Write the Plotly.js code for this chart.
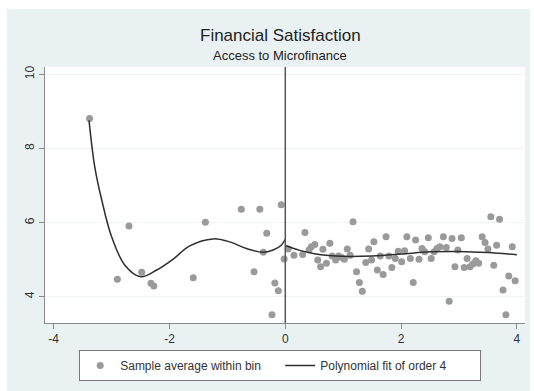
<!DOCTYPE html>
<html>
<head>
<meta charset="utf-8">
<script src="https://cdn.plot.ly/plotly-3.0.1.min.js"></script>
<style>
  html, body { margin: 0; padding: 0; background: #ffffff; }
  #chart { position: absolute; left: 7px; top: 9px; width: 523px; height: 382px; }
</style>
</head>
<body>
<div id="chart"></div>
<script>
// Binned sample averages (running variable, outcome)
const binX = [-3.38, -2.90, -2.70, -2.48, -2.32, -2.27, -1.59, -1.38, -0.76, -0.54, -0.44, -0.38, -0.32, -0.23, -0.18, -0.12, -0.07, -0.02,
  0.05, 0.15, 0.30, 0.34, 0.41, 0.45, 0.51, 0.56, 0.61, 0.65, 0.71, 0.77, 0.81, 0.87, 0.92, 0.97, 1.02, 1.07, 1.12, 1.17, 1.23, 1.28, 1.33,
  1.39, 1.44, 1.49, 1.53, 1.59, 1.64, 1.69, 1.74, 1.79, 1.84, 1.90, 1.95, 2.01, 2.06, 2.10, 2.16, 2.21, 2.25, 2.31, 2.36, 2.41, 2.47,
  2.52, 2.57, 2.62, 2.67, 2.73, 2.78, 2.83, 2.88, 2.93, 2.98, 3.04, 3.09, 3.14, 3.19, 3.24, 3.29, 3.34, 3.40, 3.45, 3.50, 3.55, 3.60,
  3.65, 3.70, 3.76, 3.81, 3.86, 3.92, 3.97];
const binY = [8.81, 4.47, 5.91, 4.66, 4.36, 4.29, 4.51, 6.01, 6.36, 4.67, 6.36, 5.20, 5.71, 3.51, 4.37, 4.16, 6.48, 5.02,
  5.29, 5.12, 5.14, 5.73, 5.26, 5.35, 5.41, 4.99, 4.81, 5.28, 4.90, 5.44, 5.10, 4.99, 5.10, 5.06, 5.01, 5.29, 5.12, 6.02, 4.67, 4.38, 4.15,
  4.92, 5.29, 4.99, 5.48, 4.72, 5.10, 4.60, 5.62, 5.10, 4.79, 5.03, 5.23, 4.94, 5.24, 5.62, 5.03, 4.38, 5.53, 5.01, 5.30, 5.21, 5.59,
  5.03, 5.21, 5.30, 5.35, 5.62, 5.33, 3.88, 5.57, 4.81, 5.26, 5.59, 4.79, 5.03, 4.81, 4.88, 4.97, 4.90, 5.62, 5.46, 5.29, 6.16, 4.85,
  5.39, 6.09, 4.18, 3.51, 4.56, 5.35, 4.43];

// Polynomial fit (order 4), left and right of the cutoff
const fitLeftX = [-3.39, -3.29, -3.17, -3.00, -2.77, -2.50, -2.22, -1.94, -1.65, -1.25, -0.96, -0.67, -0.39, -0.21, -0.07, 0.00];
const fitLeftY = [8.76, 7.50, 6.61, 5.62, 4.85, 4.54, 4.72, 5.01, 5.37, 5.56, 5.48, 5.30, 5.20, 5.26, 5.39, 5.55];
const fitRightX = [0.00, 0.25, 0.50, 0.75, 1.00, 1.50, 2.00, 2.50, 3.00, 3.50, 4.00];
const fitRightY = [5.38, 5.25, 5.16, 5.11, 5.09, 5.10, 5.15, 5.21, 5.22, 5.19, 5.13];

const xTicks = [-4, -2, 0, 2, 4];
const yTicks = [4, 6, 8, 10];
const titleText = "Financial Satisfaction";
const subtitleText = "Access to Microfinance";
const legendNames = ["Sample average within bin", "Polynomial fit of order 4"];
const cutoff = 0;

const font = "Liberation Sans, Arial, sans-serif";

const traces = [
  {
    type: "scatter", mode: "markers", x: binX, y: binY, name: legendNames[0],
    marker: { color: "#9a9a9a", size: 7 }
  },
  {
    type: "scatter", mode: "lines",
    x: fitLeftX.concat([null], fitRightX),
    y: fitLeftY.concat([null], fitRightY),
    name: legendNames[1], connectgaps: false,
    line: { color: "#2e2e2e", width: 1.5, shape: "spline" }
  }
];

const layout = {
  width: 523, height: 382,
  margin: { l: 38, r: 5, t: 58, b: 68 },
  paper_bgcolor: "#eaf1f3",
  plot_bgcolor: "#ffffff",
  font: { family: font, size: 12, color: "#333333" },
  showlegend: true,
  xaxis: {
    range: [-4.15, 4.14], tickvals: xTicks, ticktext: xTicks.map(String),
    showgrid: false, zeroline: false, showline: true, linecolor: "#8a8a8a", linewidth: 1,
    ticks: "outside", ticklen: 5, tickcolor: "#8a8a8a",
    tickfont: { family: font, size: 12, color: "#333333" }
  },
  yaxis: {
    range: [3.29, 10.2], tickvals: yTicks, ticktext: yTicks.map(String), tickangle: -90,
    showgrid: true, gridcolor: "#eef3f5", gridwidth: 1,
    zeroline: false, showline: true, linecolor: "#8a8a8a", linewidth: 1,
    ticks: "outside", ticklen: 5, tickcolor: "#8a8a8a",
    tickfont: { family: font, size: 12, color: "#333333" }
  },
  shapes: [
    { type: "line", xref: "x", yref: "paper", x0: cutoff, x1: cutoff, y0: 0, y1: 1,
      line: { color: "#555555", width: 1.5 } }
  ],
  annotations: [
    { text: titleText, xref: "paper", yref: "paper", x: 0.49, y: 1.125, xanchor: "center", yanchor: "middle",
      showarrow: false, font: { family: font, size: 17, color: "#222222" } },
    { text: subtitleText, xref: "paper", yref: "paper", x: 0.49, y: 1.045, xanchor: "center", yanchor: "middle",
      showarrow: false, font: { family: font, size: 13, color: "#222222" } }
  ],
  legend: {
    orientation: "h", x: 0.49, y: -0.105, xanchor: "center", yanchor: "top",
    bgcolor: "#ffffff", bordercolor: "#777777", borderwidth: 1,
    entrywidth: 155, entrywidthmode: "pixels",
    font: { family: font, size: 12, color: "#333333" }
  }
};

Plotly.newPlot("chart", traces, layout, { displayModeBar: false, staticPlot: true });
</script>
</body>
</html>
